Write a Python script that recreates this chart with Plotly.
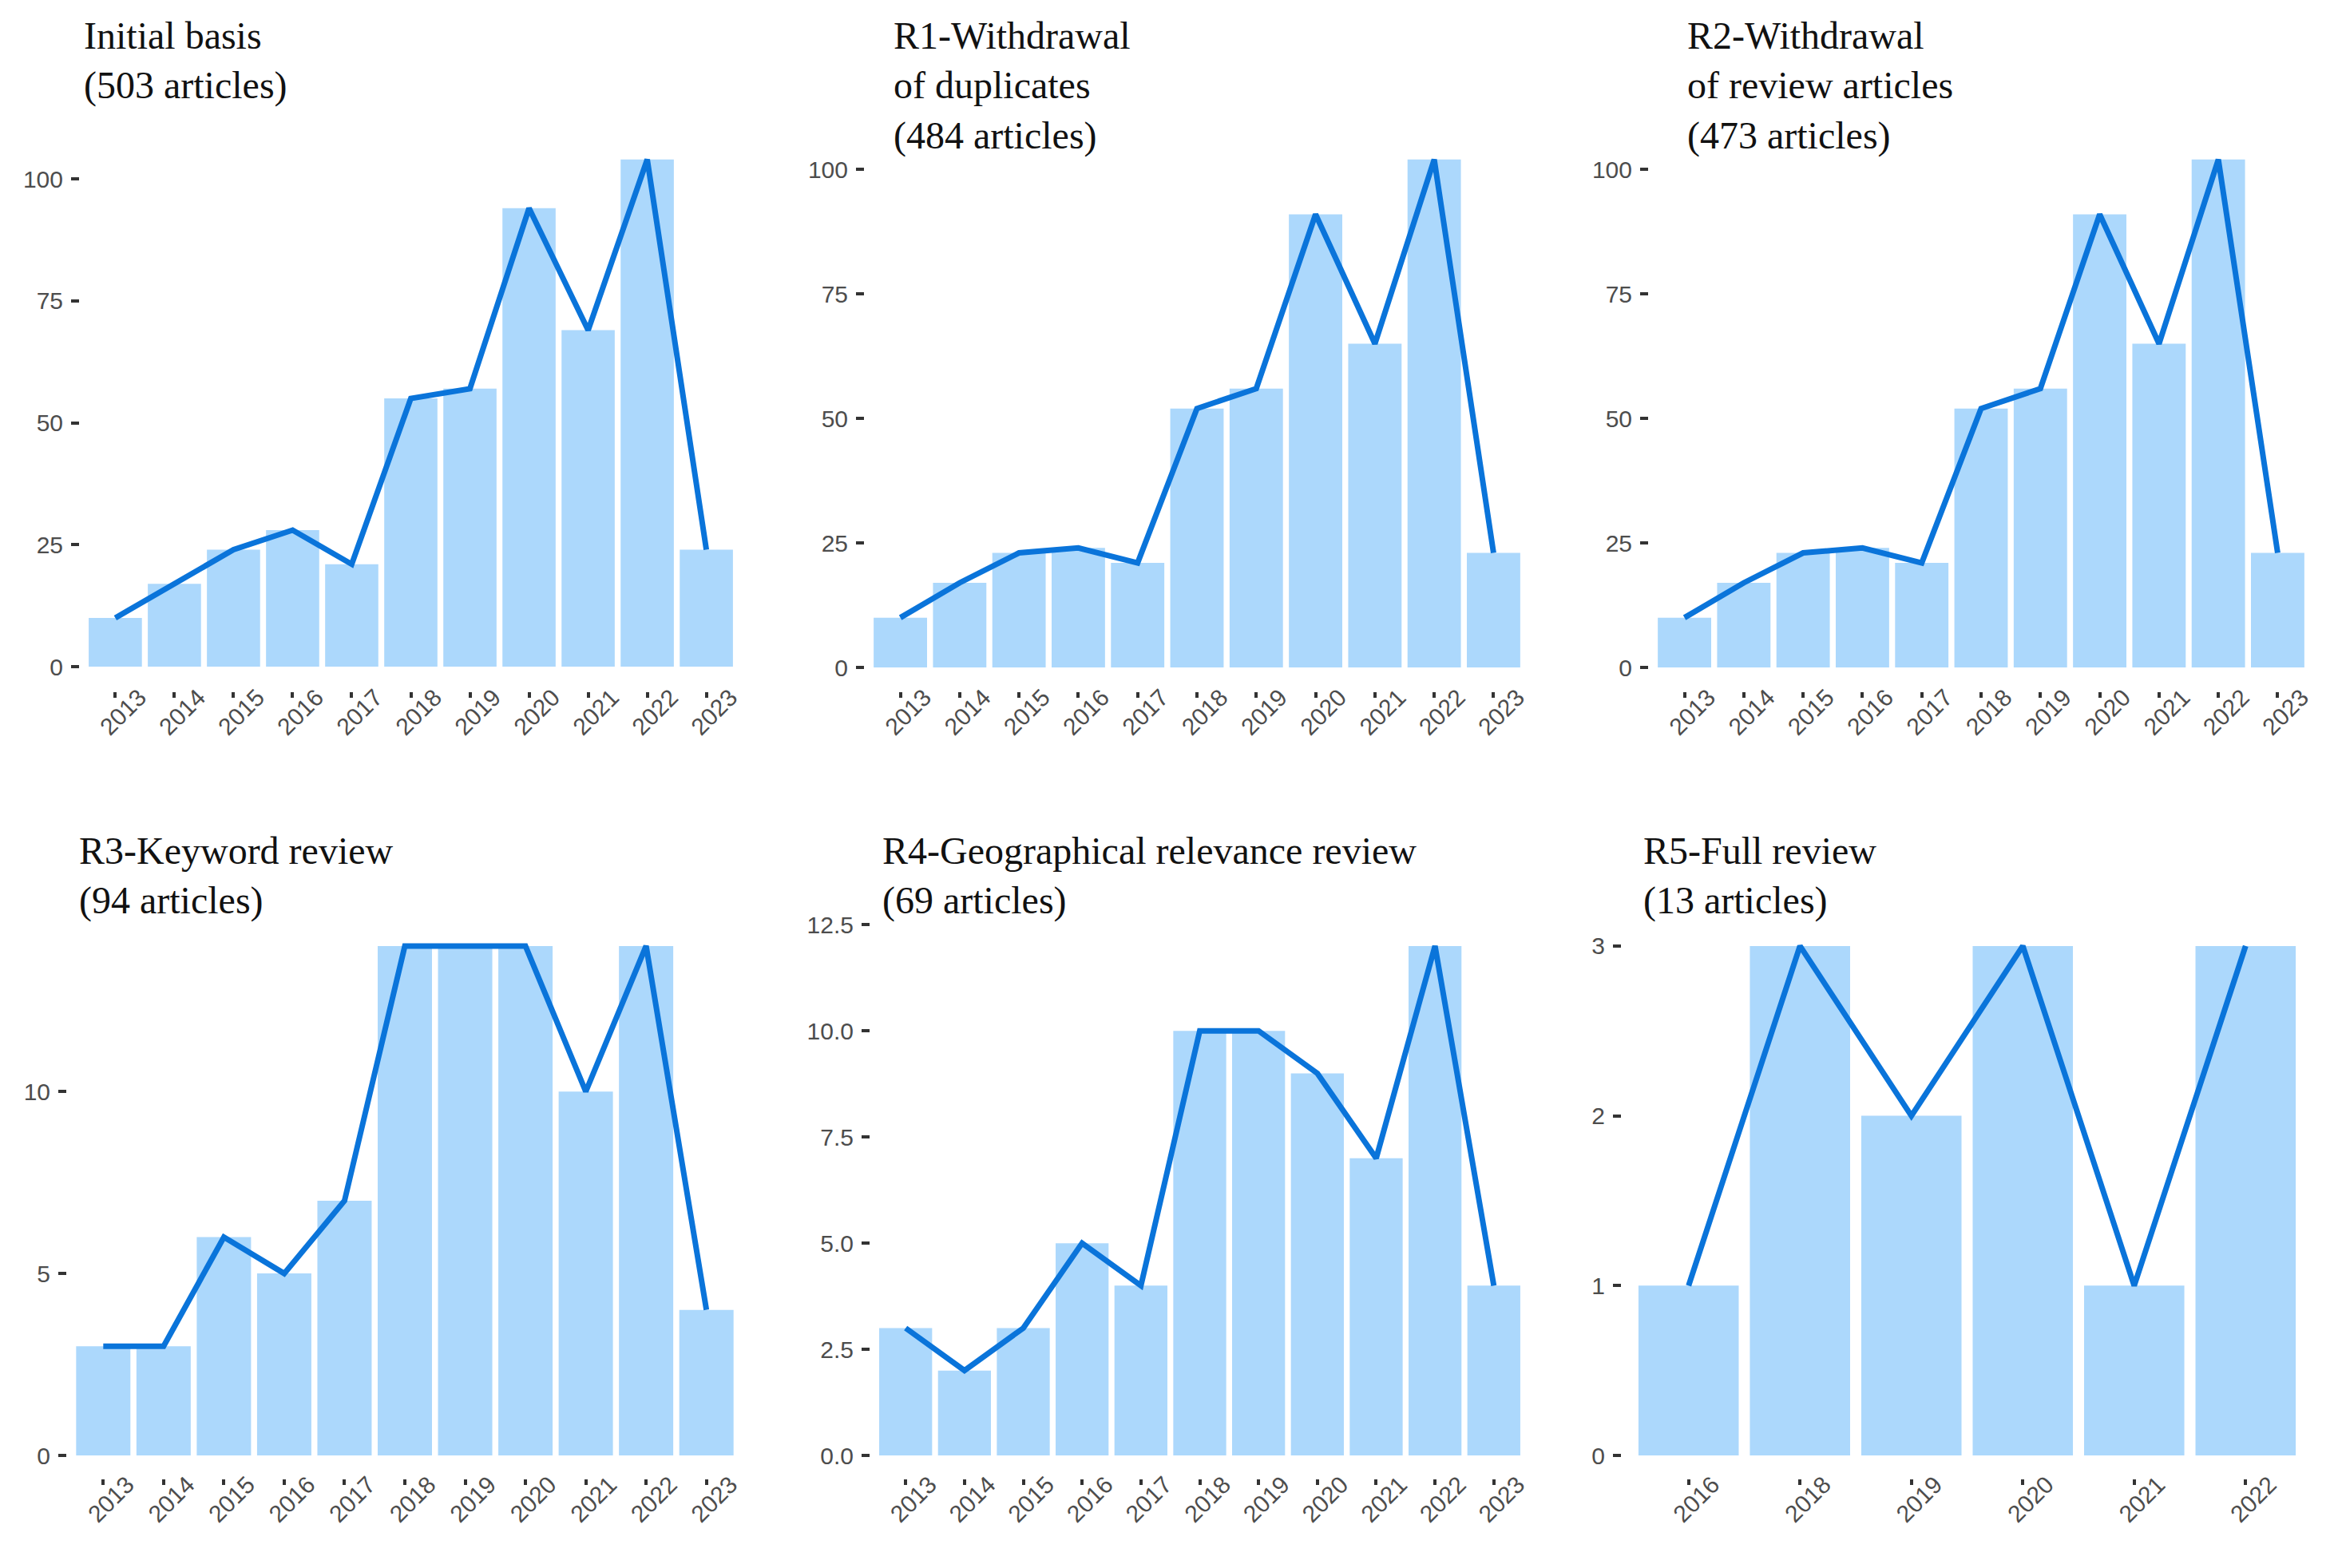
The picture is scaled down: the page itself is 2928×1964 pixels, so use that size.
import plotly.graph_objects as go

W, H = 2928, 1964
OFF = 8  # page offset compensation (px)

# ---------------- data ----------------
titles = [
    "Initial basis<br>(503 articles)",
    "R1-Withdrawal<br>of duplicates<br>(484 articles)",
    "R2-Withdrawal<br>of review articles<br>(473 articles)",
    "R3-Keyword review<br>(94 articles)",
    "R4-Geographical relevance review<br>(69 articles)",
    "R5-Full review<br>(13 articles)",
]

years_all = ["2013", "2014", "2015", "2016", "2017", "2018", "2019", "2020", "2021", "2022", "2023"]
years_r5 = ["2016", "2018", "2019", "2020", "2021", "2022"]

counts_initial = [10, 17, 24, 28, 21, 55, 57, 94, 69, 104, 24]
counts_r1 = [10, 17, 23, 24, 21, 52, 56, 91, 65, 102, 23]
counts_r2 = [10, 17, 23, 24, 21, 52, 56, 91, 65, 102, 23]
counts_r3 = [3, 3, 6, 5, 7, 14, 14, 14, 10, 14, 4]
counts_r4 = [3, 2, 3, 5, 4, 10, 10, 9, 7, 12, 4]
counts_r5 = [1, 3, 2, 3, 1, 3]

yticks_big = [0, 25, 50, 75, 100]
yticks_r3 = [0, 5, 10]
yticks_r4 = [0, 2.5, 5, 7.5, 10, 12.5]
yticklabels_r4 = ["0.0", "2.5", "5.0", "7.5", "10.0", "12.5"]
yticks_r5 = [0, 1, 2, 3]

series = [
    (years_all, counts_initial, yticks_big, None),
    (years_all, counts_r1, yticks_big, None),
    (years_all, counts_r2, yticks_big, None),
    (years_all, counts_r3, yticks_r3, None),
    (years_all, counts_r4, yticks_r4, yticklabels_r4),
    (years_r5, counts_r5, yticks_r5, None),
]

# ---------------- layout (pixels) ----------------
panels = [
    dict(x0=100, x1=929, zero=835, top=168, dot=866, tx=103, ty=61),
    dict(x0=1083, x1=1915, zero=836, top=168, dot=866, tx=1117, ty=61),
    dict(x0=2065, x1=2897, zero=836, top=168, dot=866, tx=2111, ty=61),
    dict(x0=84, x1=930, zero=1823, top=1153, dot=1852, tx=97, ty=1082),
    dict(x0=1090, x1=1915, zero=1823, top=1153, dot=1852, tx=1103, ty=1082),
    dict(x0=2031, x1=2896, zero=1823, top=1153, dot=1852, tx=2056, ty=1082),
]

BAR = "#ACD8FC"
LINE = "#0A74DA"
TICKFONT = dict(family="Liberation Sans, Arial, sans-serif", size=30, color="#4d4d4d")
TITLEFONT = dict(family="Liberation Serif, Times New Roman, serif", size=48, color="#111111")


def px_x(v):
    return (v - OFF) / W


def px_y(v):
    return 1 - (v - OFF) / H


fig = go.Figure()
layout = dict(
    width=W, height=H, autosize=False,
    margin=dict(l=0, r=0, t=0, b=0, pad=0),
    paper_bgcolor="white", plot_bgcolor="white",
    showlegend=False, bargap=0.1,
    annotations=[],
)

for i, ((cats, vals, yt, ytl), p) in enumerate(zip(series, panels)):
    n = i + 1
    xa = "x" if n == 1 else f"x{n}"
    ya = "y" if n == 1 else f"y{n}"
    fig.add_trace(go.Bar(x=cats, y=vals, marker=dict(color=BAR, line=dict(width=0)),
                         xaxis=xa, yaxis=ya, hoverinfo="x+y"))
    fig.add_trace(go.Scatter(x=cats, y=vals, mode="lines",
                             line=dict(color=LINE, width=7),
                             xaxis=xa, yaxis=ya, hoverinfo="x+y"))
    ymax = max(vals) * 1.05
    xkey = "xaxis" if n == 1 else f"xaxis{n}"
    ykey = "yaxis" if n == 1 else f"yaxis{n}"
    layout[xkey] = dict(
        domain=[px_x(p["x0"]), px_x(p["x1"])],
        anchor="free", position=px_y(p["dot"]),
        type="category", range=[-0.6, len(cats) - 0.4],
        showline=False, showgrid=False, zeroline=False, automargin=False,
        ticks="outside", ticklen=7, tickwidth=4, tickcolor="#333333",
        tickangle=-45, tickfont=TICKFONT,
        ticklabelshift=30, ticklabelstandoff=-30,
        fixedrange=True,
    )
    ydict = dict(
        domain=[px_y(p["zero"]), px_y(p["top"])],
        anchor=xa, range=[0, ymax],
        showline=False, showgrid=False, zeroline=False, automargin=False,
        tickmode="array", tickvals=yt,
        ticks="outside", ticklen=10, tickwidth=4, tickcolor="#333333",
        tickfont=TICKFONT, ticklabelstandoff=4,
        fixedrange=True,
    )
    if ytl is not None:
        ydict["ticktext"] = ytl
    layout[ykey] = ydict
    layout["annotations"].append(dict(
        text=titles[i], xref="paper", yref="paper",
        x=px_x(p["tx"]), y=px_y(p["ty"] - 45),
        xanchor="left", yanchor="top", align="left",
        showarrow=False, font=TITLEFONT,
    ))

fig.update_layout(**layout)
fig.write_html("out.html")
